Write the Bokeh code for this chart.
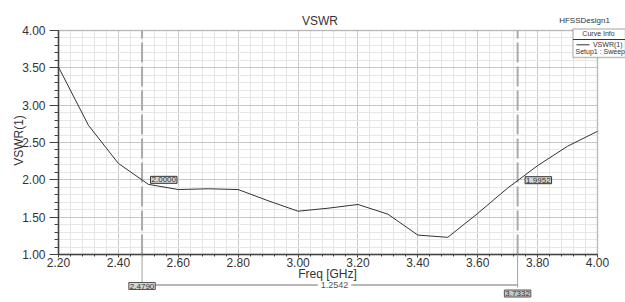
from bokeh.plotting import figure
from bokeh.models import (Range1d, SingleIntervalTicker, NumeralTickFormatter, Label,
                          Arrow, BoxAnnotation)
from bokeh.embed import file_html
from bokeh.resources import INLINE
import math

# ---- data ----
freq = [2.2, 2.3, 2.4, 2.5, 2.6, 2.7, 2.8, 2.9, 3.0, 3.1, 3.2, 3.3, 3.4, 3.5, 3.6, 3.7, 3.8, 3.9, 4.0]
vswr = [3.51, 2.73, 2.22, 1.94, 1.87, 1.88, 1.87, 1.72, 1.58, 1.62, 1.67, 1.54, 1.26, 1.23, 1.55, 1.89, 2.19, 2.45, 2.65]
marker_freq = [2.4790, 3.7332]
marker_vswr = [2.0000, 1.9952]
marker_labels = ["2.0000", "1.9952"]
freq_labels = ["2.4790", "3.7332"]
delta_label = "1.2542"
x_ticks_step, y_ticks_step = 0.2, 0.5

XMIN, XMAX, YMIN, YMAX = 2.2, 4.0, 1.0, 4.0
W, H = 625, 302
FL, FR, FT, FB = 58, 597, 30, 254   # plot rectangle in canvas pixels
FONT = "Liberation Sans"
TXT = "#333333"

sx = (XMAX - XMIN) / (FR - FL)
sy = (YMAX - YMIN) / (FB - FT)

def dx(px):
    return XMIN + (px - FL) * sx

def dy(py):
    return YMIN + (FB - py) * sy

p = figure(width=W, height=H, output_backend="svg", toolbar_location=None,
           x_range=Range1d(dx(0), dx(W)), y_range=Range1d(dy(H), dy(0)),
           min_border=0)
p.background_fill_color = "white"
p.border_fill_color = "white"
p.outline_line_color = None

p.xaxis.ticker = SingleIntervalTicker(interval=x_ticks_step, num_minor_ticks=5)
p.yaxis.ticker = SingleIntervalTicker(interval=y_ticks_step, num_minor_ticks=5)
p.xaxis.formatter = NumeralTickFormatter(format="0.00")
p.yaxis.formatter = NumeralTickFormatter(format="0.00")
p.xaxis.fixed_location = YMIN
p.yaxis.fixed_location = XMIN
p.xaxis.bounds = (XMIN, XMAX)
p.yaxis.bounds = (YMIN, YMAX)
for ax in (p.xaxis, p.yaxis):
    ax.axis_line_color = "#444444"
    ax.axis_line_width = 1.5
    ax.major_tick_line_color = "#444444"
    ax.minor_tick_line_color = "#444444"
    ax.major_tick_in = 0
    ax.minor_tick_in = 0
    ax.major_label_text_font = FONT
    ax.major_label_text_font_size = "12px"
    ax.major_label_text_color = TXT
p.yaxis.major_tick_out = 9
p.yaxis.minor_tick_out = 4
p.yaxis.major_label_standoff = 4
p.xaxis.major_tick_out = 3
p.xaxis.minor_tick_out = 2
p.xaxis.major_label_standoff = 0

p.xgrid.grid_line_color = "#c8c8c8"
p.ygrid.grid_line_color = "#c8c8c8"
p.xgrid.minor_grid_line_color = "#e6e6e6"
p.ygrid.minor_grid_line_color = "#e6e6e6"

# white masks so the grid stays inside the plot rectangle
for kw in (dict(top=YMIN), dict(bottom=YMAX), dict(right=XMIN), dict(left=XMAX)):
    p.add_layout(BoxAnnotation(level="underlay", fill_color="white", fill_alpha=1.0,
                               line_color=None, **kw))

# plot border (top / right)
p.add_layout(BoxAnnotation(left=XMIN, right=XMAX, bottom=YMIN, top=YMAX, level="underlay",
                           fill_alpha=0, line_color="#555555", line_width=1.5))

# marker dashed lines
for mf in marker_freq:
    p.add_layout(Arrow(end=None, x_start=mf, y_start=YMIN, x_end=mf, y_end=YMAX, level="underlay",
                       line_color="#aaaaaa", line_width=2, line_dash="20 4"))

p.line(freq, vswr, line_color="#333333", line_width=1)

def lab(x, y, text, size, **kw):
    kw.setdefault("text_color", TXT)
    kw.setdefault("text_baseline", "middle")
    return Label(x=x, y=y, text=text, text_font=FONT, text_font_size=size, **kw)

# marker value boxes
p.add_layout(lab(marker_freq[0] + 8.5 * sx, marker_vswr[0], marker_labels[0], "8px", text_align="left",
                 background_fill_color="#d6d6d6", border_line_color="#333333", padding=1))
p.add_layout(lab(marker_freq[1] + 7.5 * sx, marker_vswr[1], marker_labels[1], "8px", text_align="left",
                 background_fill_color="#d6d6d6", border_line_color="#333333", padding=1))

# below-axis marker connectors and delta
grey = "#a0a0a0"
p.add_layout(Arrow(end=None, x_start=marker_freq[0], y_start=YMIN, x_end=marker_freq[0], y_end=dy(282),
                   line_color=grey, line_width=1))
p.add_layout(Arrow(end=None, x_start=marker_freq[1], y_start=YMIN, x_end=marker_freq[1], y_end=dy(287),
                   line_color=grey, line_width=1))
p.add_layout(Arrow(end=None, x_start=marker_freq[0], y_start=dy(284.5), x_end=marker_freq[1], y_end=dy(284.5),
                   line_color=grey, line_width=1.5))
p.add_layout(lab(dx(334), dy(284.5), delta_label, "9px", text_color="#555555", text_align="center",
                 background_fill_color="white", padding=3))
p.add_layout(lab(marker_freq[0], dy(285.5), freq_labels[0], "8px", text_align="center",
                 background_fill_color="#d6d6d6", border_line_color="#555555", padding=1))
p.add_layout(lab(marker_freq[1], dy(293), freq_labels[1], "8px", text_align="center",
                 background_fill_color="#c8c8c8", border_line_color="#555555", padding=1))

# titles and axis labels
p.add_layout(lab(dx(319.5), dy(20), "VSWR", "12px", text_align="center"))
p.add_layout(lab(dx(327), dy(273), "Freq [GHz]", "12px", text_align="center"))
p.add_layout(lab(dx(18), dy(140), "VSWR(1)", "12px", text_align="center", angle=math.pi / 2))
p.add_layout(lab(dx(584), dy(20), "HFSSDesign1", "8px", text_align="center"))

# curve info box
p.add_layout(BoxAnnotation(left=dx(572.5), top=dy(28.5), bottom=dy(57),
                           fill_color="white", fill_alpha=1.0, line_color="#333333", line_width=1.5))
p.add_layout(Arrow(end=None, x_start=dx(572.5), y_start=dy(39), x_end=dx(W), y_end=dy(39),
                   line_color="#333333", line_width=1))
p.add_layout(lab(dx(598), dy(33), "Curve Info", "7px", text_align="center"))
p.add_layout(Arrow(end=None, x_start=dx(576), y_start=dy(44.3), x_end=dx(589), y_end=dy(44.3),
                   line_color="#333333", line_width=1))
p.add_layout(lab(dx(622), dy(43.5), "VSWR(1)", "7px", text_align="right"))
p.add_layout(lab(dx(575), dy(50.7), "Setup1 : Sweep", "7px", text_align="left"))

open("out.html", "w").write(file_html(p, INLINE))
